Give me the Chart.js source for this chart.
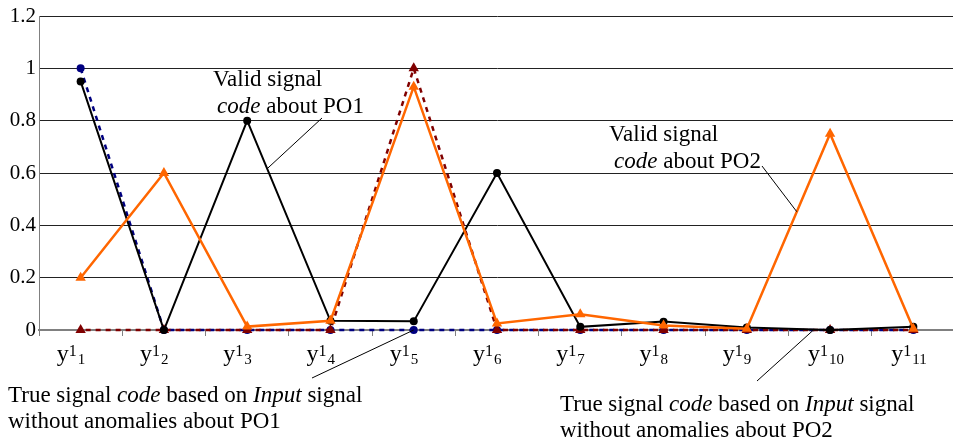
<!DOCTYPE html>
<html>
<head>
<meta charset="utf-8">
<script src="https://cdn.jsdelivr.net/npm/chart.js@4.4.0/dist/chart.umd.min.js"></script>
<style>
html, body { margin: 0; padding: 0; background: #fff; overflow: hidden; }
canvas { display: block; }
</style>
</head>
<body>
<canvas id="chart" width="961" height="440"></canvas>
<script>
// category labels: y with superscript 1 and a subscript index
let labelBase = "y";
let labelSup = "1";
let labelSubs = ["1", "2", "3", "4", "5", "6", "7", "8", "9", "10", "11"];

// series values
let validPO1 = [0.95, 0, 0.8, 0.035, 0.033, 0.6, 0.012, 0.032, 0.01, 0, 0.012];
let validPO2 = [0.2, 0.6, 0.013, 0.035, 0.93, 0.025, 0.06, 0.017, 0.005, 0.75, 0.005];
let truePO1 = [1, 0, 0, 0, 0, 0, 0, 0, 0, 0, 0];
let truePO2 = [0, 0, 0, 0, 1, 0, 0, 0, 0, 0, 0];

let serif = "\"Liberation Serif\", \"Times New Roman\", serif";
Chart.defaults.font.family = serif;

// draws a line of text made of plain / italic pieces
function drawRich(ctx, parts, x, y, size) {
    parts.forEach(p => {
        ctx.font = (p.italic ? "italic " : "") + size + "px " + serif;
        ctx.fillText(p.t, x, y);
        x += ctx.measureText(p.t).width;
    });
}

// point between two library-placed points of a dataset
function along(chart, ds, i, t) {
    let pts = chart.getDatasetMeta(ds).data;
    let a = pts[i], b = pts[i + 1];
    return { x: a.x + (b.x - a.x) * t, y: a.y + (b.y - a.y) * t };
}

let textPlugin = {
    id: "texts",
    afterDraw(chart) {
        let ctx = chart.ctx;
        let xs = chart.scales.x;
        ctx.save();
        ctx.fillStyle = "#000";
        ctx.textBaseline = "alphabetic";
        ctx.textAlign = "left";

        // x axis labels
        labelSubs.forEach((s, i) => {
            let px = xs.getPixelForValue(i);
            let left = px - 24 + (s.length - 1) * 2;
            ctx.font = "24px " + serif;
            ctx.fillText(labelBase, left, 361);
            let w = ctx.measureText(labelBase).width;
            ctx.font = "16px " + serif;
            ctx.fillText(labelSup, left + w, 356);
            let w2 = ctx.measureText(labelSup).width;
            ctx.font = "15px " + serif;
            ctx.fillText(s, left + w + w2 + 1, 364);
        });

        // annotations
        drawRich(ctx, [{ t: "Valid signal" }], 213, 86, 23);
        drawRich(ctx, [{ t: "code", italic: true }, { t: " about PO1" }], 217, 113, 23);
        drawRich(ctx, [{ t: "Valid signal" }], 609, 141, 23);
        drawRich(ctx, [{ t: "code", italic: true }, { t: " about PO2" }], 614, 168, 23);

        let trueLine = [{ t: "True signal " }, { t: "code", italic: true }, { t: " based on " },
                        { t: "Input", italic: true }, { t: " signal" }];
        drawRich(ctx, trueLine, 8, 402, 23);
        drawRich(ctx, [{ t: "without anomalies about PO1" }], 8, 428, 23);
        drawRich(ctx, trueLine, 560, 411, 23);
        drawRich(ctx, [{ t: "without anomalies about PO2" }], 560, 437, 23);

        // leader lines
        ctx.strokeStyle = "#000";
        ctx.lineWidth = 1;
        let p1 = along(chart, 1, 2, 0.24);
        let p2 = along(chart, 0, 8, 0.6);
        let p3 = chart.getDatasetMeta(3).data[4];
        let p4 = along(chart, 2, 8, 0.8);
        let leaders = [
            [322, 118, p1.x, p1.y],
            [762, 166, p2.x, p2.y],
            [312, 378, p3.x, p3.y],
            [757, 381, p4.x, p4.y]
        ];
        leaders.forEach(l => {
            ctx.beginPath();
            ctx.moveTo(l[0], l[1]);
            ctx.lineTo(l[2], l[3]);
            ctx.stroke();
        });
        ctx.restore();
    }
};

let chart = new Chart(document.getElementById("chart"), {
    type: "line",
    data: {
        labels: labelSubs,
        datasets: [
            {
                label: "Valid signal code about PO2",
                data: validPO2,
                borderColor: "#ff6600",
                backgroundColor: "#ff6600",
                borderWidth: 2.5,
                pointStyle: "triangle",
                pointRadius: 6,
                pointBorderWidth: 0,
                order: 0
            },
            {
                label: "Valid signal code about PO1",
                data: validPO1,
                borderColor: "#000",
                backgroundColor: "#000",
                borderWidth: 2,
                pointStyle: "circle",
                pointRadius: 4,
                pointBorderWidth: 0,
                order: 1
            },
            {
                label: "True signal code without anomalies about PO2",
                data: truePO2,
                borderColor: "#800000",
                backgroundColor: "#800000",
                borderWidth: 2.5,
                borderDash: [5, 5],
                borderDashOffset: 5,
                pointStyle: "triangle",
                pointRadius: 6,
                pointBorderWidth: 0,
                order: 2
            },
            {
                label: "True signal code without anomalies about PO1",
                data: truePO1,
                borderColor: "#000080",
                backgroundColor: "#000080",
                borderWidth: 2.5,
                borderDash: [5, 5],
                pointStyle: "circle",
                pointRadius: 4,
                pointBorderWidth: 0,
                order: 3
            }
        ]
    },
    options: {
        responsive: false,
        animation: false,
        clip: false,
        layout: { padding: { top: 16, right: 1, left: 0, bottom: 0 } },
        plugins: {
            legend: { display: false },
            tooltip: { enabled: false }
        },
        elements: { line: { tension: 0, fill: false } },
        scales: {
            x: {
                type: "category",
                offset: true,
                ticks: { display: false },
                grid: {
                    offset: true,
                    drawOnChartArea: false,
                    drawTicks: true,
                    tickLength: 6,
                    color: "#808080"
                },
                border: { display: true, color: "#808080", width: 2 },
                afterFit(s) { s.height = 110; }
            },
            y: {
                min: 0,
                max: 1.2,
                ticks: {
                    stepSize: 0.2,
                    color: "#000",
                    padding: 3,
                    font: { family: serif, size: 21 },
                    callback: v => String(+v.toFixed(1))
                },
                grid: { color: "#222", lineWidth: 1, drawTicks: false },
                border: { display: true, color: "#808080", width: 1 },
                afterFit(s) { s.width = 39; }
            }
        }
    },
    plugins: [textPlugin]
});
</script>
</body>
</html>
